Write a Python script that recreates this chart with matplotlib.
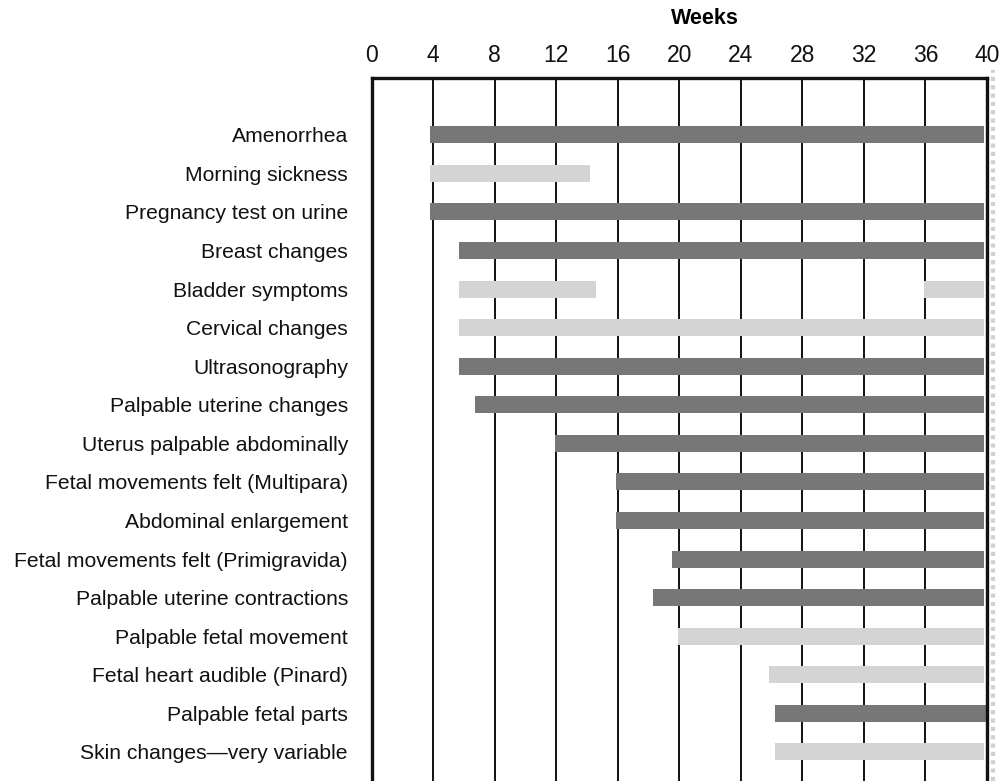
import matplotlib
matplotlib.use("Agg")
import matplotlib.pyplot as plt
from matplotlib.lines import Line2D

labels = [
    "Amenorrhea",
    "Morning sickness",
    "Pregnancy test on urine",
    "Breast changes",
    "Bladder symptoms",
    "Cervical changes",
    "Ultrasonography",
    "Palpable uterine changes",
    "Uterus palpable abdominally",
    "Fetal movements felt (Multipara)",
    "Abdominal enlargement",
    "Fetal movements felt (Primigravida)",
    "Palpable uterine contractions",
    "Palpable fetal movement",
    "Fetal heart audible (Pinard)",
    "Palpable fetal parts",
    "Skin changes\u2014very variable",
]
bar_start = [3.8, 3.8, 3.8, 5.7, 5.7, 5.7, 5.7, 6.7, 11.9, 15.9, 15.9, 19.5, 18.3, 19.9, 25.8, 26.2, 26.2]
bar_end = [39.8, 14.2, 39.8, 39.8, 14.6, 39.8, 39.8, 39.8, 39.8, 39.8, 39.8, 39.8, 39.8, 39.8, 39.8, 40.0, 39.8]
shade = ["dark", "light", "dark", "dark", "light", "light", "dark", "dark", "dark",
         "dark", "dark", "dark", "dark", "light", "light", "dark", "light"]
# second segment of bladder symptoms (late pregnancy)
extra_label = ["Bladder symptoms"]
extra_start = [35.9]
extra_end = [39.8]
extra_shade = ["light"]

week_ticks = [0, 4, 8, 12, 16, 20, 24, 28, 32, 36, 40]

colors = {"dark": "#777777", "light": "#d4d4d4"}

W, H = 1003, 781
fig = plt.figure(figsize=(W / 100, H / 100), dpi=100)
left_px, right_px, top_px = 371.6, 987.0, 78.0
ax = fig.add_axes([left_px / W, 0.0, (right_px - left_px) / W, 1 - top_px / H])

ypos = list(range(len(labels)))
row0_px, spacing = 134.7, 38.58
y_top = (top_px - row0_px) / spacing
y_bot = (H - row0_px) / spacing
ax.set_ylim(y_bot, y_top)
ax.set_xlim(0, 40)

for x in week_ticks[1:-1]:
    ax.axvline(x, color="#111111", lw=1.4, zorder=1)

bar_h = 17 / spacing
ax.barh(ypos, [e - s for s, e in zip(bar_start, bar_end)], left=bar_start,
        height=bar_h, color=[colors[s] for s in shade], zorder=2, linewidth=0)
ax.barh([labels.index(l) for l in extra_label],
        [e - s for s, e in zip(extra_start, extra_end)], left=extra_start,
        height=bar_h, color=[colors[s] for s in extra_shade], zorder=2, linewidth=0)

ax.set_yticks(ypos)
ax.set_yticklabels(labels, family=["Liberation Sans", "DejaVu Sans"], fontsize=15.2,
                   color="#111111")
ax.tick_params(axis="y", length=0, pad=17)

ax.xaxis.tick_top()
ax.set_xticks(week_ticks)
ax.set_xticklabels([str(t) for t in week_ticks],
                   family=["Liberation Sans", "DejaVu Sans"],
                   fontsize=16.5, color="#111111")
ax.tick_params(axis="x", length=0, pad=8)

for side in ["left", "top", "right"]:
    ax.spines[side].set_linewidth(2.4)
    ax.spines[side].set_color("#111111")
ax.spines["bottom"].set_visible(False)

# faint dotted strip beyond the right border
fig.add_artist(Line2D([993 / W, 993 / W], [0, 1 - 70 / H], transform=fig.transFigure,
                      color="#d0d0d0", lw=3, linestyle=(0, (1, 1))))

fig.text(705 / W, 1 - 18 / H, "Weeks", ha="center", va="center",
         fontsize=15.5, fontweight="bold", family=["Liberation Sans", "DejaVu Sans"])

fig.savefig("out.png", dpi=100)
